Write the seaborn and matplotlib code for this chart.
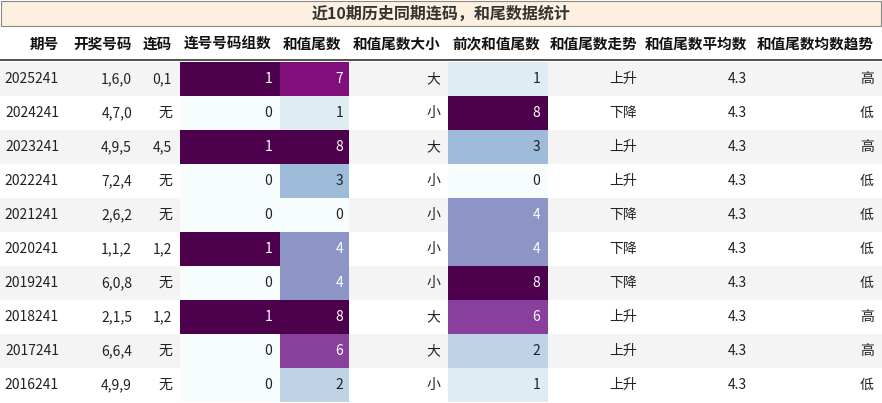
import matplotlib
matplotlib.use("Agg")
import matplotlib.pyplot as plt
import seaborn as sns
import numpy as np
import pandas as pd
from matplotlib.patches import Rectangle

sns.set_theme(style="white")
plt.rcParams['font.family'] = ['Noto Sans CJK SC', 'DejaVu Sans']

title = "近10期历史同期连码，和尾数据统计"
headers = ["期号", "开奖号码", "连码", "连号号码组数", "和值尾数", "和值尾数大小", "前次和值尾数", "和值尾数走势", "和值尾数平均数", "和值尾数均数趋势"]
periods = ["2025241", "2024241", "2023241", "2022241", "2021241", "2020241", "2019241", "2018241", "2017241", "2016241"]
numbers = ["1,6,0", "4,7,0", "4,9,5", "7,2,4", "2,6,2", "1,1,2", "6,0,8", "2,1,5", "6,6,4", "4,9,9"]
lianma = ["0,1", "无", "4,5", "无", "无", "1,2", "无", "1,2", "无", "无"]
groups = [1, 0, 1, 0, 0, 1, 0, 1, 0, 0]
tail = [7, 1, 8, 3, 0, 4, 4, 8, 6, 2]
size = ["大", "小", "大", "小", "小", "小", "小", "大", "大", "小"]
prev_tail = [1, 8, 3, 0, 4, 4, 8, 6, 2, 1]
trend = ["上升", "下降", "上升", "上升", "下降", "下降", "下降", "上升", "上升", "上升"]
avg = [4.3] * 10
avg_trend = ["高", "低", "高", "低", "低", "低", "低", "高", "高", "低"]

W, H = 882, 403
fig = plt.figure(figsize=(W / 100, H / 100), dpi=100)
bg = fig.add_axes([0, 0, 1, 1])
bg.set_xlim(0, W); bg.set_ylim(H, 0); bg.axis("off")

edges = [0, 67, 140, 180, 280, 349, 448, 548, 645, 755, 882]
top, row_h, head_top, head_bot = 62, 34, 27, 60

# title bar
bg.add_patch(Rectangle((1, 1), W - 2, 25, facecolor="#fdf0e0", edgecolor="#888888", lw=0.8))
bg.text(W / 2, 14, title, ha="center", va="center", fontsize=11.5, fontweight="bold", color="#333333")

# header
for i, h in enumerate(headers):
    bg.text(edges[i + 1] - 8, (head_top + head_bot) / 2, h, ha="right", va="center", fontsize=10.5, fontweight="bold", color="#111111")
bg.plot([0, W], [head_bot, head_bot], color="#333333", lw=1.2)

# row stripes
for r in range(10):
    y = top + r * row_h
    if r % 2 == 0:
        bg.add_patch(Rectangle((0, y), W, row_h, facecolor="#f4f4f4", edgecolor="none", zorder=0))

cols_text = {0: periods, 1: numbers, 2: lianma, 5: size, 7: trend, 8: [f"{v:.1f}" for v in avg], 9: avg_trend}
for c, vals in cols_text.items():
    for r, v in enumerate(vals):
        bg.text(edges[c + 1] - 8, top + r * row_h + row_h / 2, v, ha="right", va="center", fontsize=10, color="#222222")
bg.text(8, 0, "")
for r, v in enumerate(periods):
    pass

def heat_col(c, vals, vmax):
    x0, x1 = edges[c], edges[c + 1]
    ax = fig.add_axes([x0 / W, 1 - (top + 10 * row_h) / H, (x1 - x0) / W, 10 * row_h / H])
    df = pd.DataFrame({"v": vals})
    sns.heatmap(df, ax=ax, cmap="BuPu", vmin=0, vmax=vmax, cbar=False, annot=False,
                xticklabels=False, yticklabels=False)
    ax.axis("off")
    for r, v in enumerate(vals):
        frac = v / vmax
        col = "white" if frac > 0.45 else "#222222"
        ax.text(0.92, r + 0.5, str(v), ha="right", va="center", fontsize=10, color=col)

heat_col(3, groups, 1)
heat_col(4, tail, 8)
heat_col(6, prev_tail, 8)

fig.savefig("out.png", dpi=100)
